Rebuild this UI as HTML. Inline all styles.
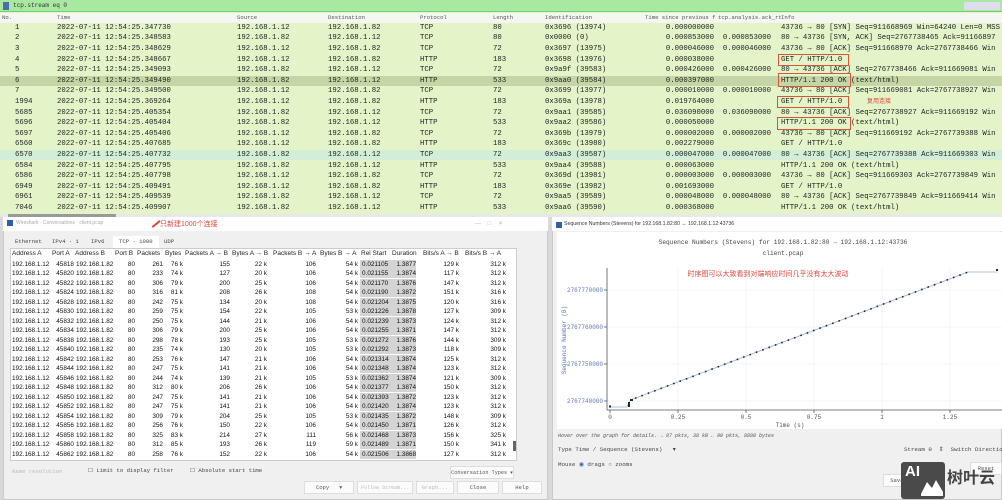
<!DOCTYPE html>
<html><head><meta charset="utf-8"><style>
*{margin:0;padding:0;box-sizing:border-box}
body{width:1002px;height:500px;overflow:hidden;background:#d9d9d9;position:relative;font-family:"Liberation Sans","Noto Sans CJK SC",sans-serif}
.a{position:absolute;white-space:nowrap}
.pl{position:absolute;left:0;top:0;width:1002px;height:216px;background:#e3f4c9}
.m{font-family:"Liberation Mono","Noto Sans CJK SC",monospace;font-size:7.3px;color:#222}
.r{position:absolute;left:0;width:1002px;height:10.6px;line-height:10.6px}
.r span{position:absolute;top:0}
.k1{left:15px}.k2{left:57px}.k3{left:237px}.k4{left:328px}.k5{left:420px}.k6{left:493px}.k7{left:545px}
.k8{left:640px;width:74px;text-align:right}.k9{left:700px;width:71px;text-align:right}.k10{left:781px}
.box{position:absolute;border:1.3px solid #d8553a}
.ct{font-size:6.4px;color:#111}
.cr{position:absolute;left:10px;width:507px;height:9.5px;line-height:9.5px}
.cr span{position:absolute;top:0}
.q1{left:2px}.q2{left:36px;width:28px;text-align:right}.q3{left:66px}
.q4{left:100px;width:25px;text-align:right}.q5{left:130px;width:23px;text-align:right}.q6{left:155px;width:18px;text-align:right}
.q7{left:190px;width:30px;text-align:right}.q8{left:230px;width:27px;text-align:right}.q9{left:275px;width:31px;text-align:right}
.q10{left:318px;width:30px;text-align:right}.q11{left:350px;width:56px;background:#d4d4d4;height:9px;padding-left:2px}
.q12{left:380px;width:26px;text-align:right}.q13{left:420px;width:29px;text-align:right}.q14{left:470px;width:26px;text-align:right}
.btn{position:absolute;background:#fbfbfb;border:1px solid #ddd;font-family:"Liberation Mono",monospace;font-size:5.6px;color:#555;text-align:center;line-height:12px;height:13px;white-space:nowrap;overflow:hidden}
</style></head><body>
<div class="pl"></div>
<div class="a" style="left:0;top:0;width:1002px;height:12px;background:#a8e8a0;border-bottom:1px solid #7c7"></div>
<div class="a" style="left:3px;top:2px;width:6px;height:8px;background:#4a6fa8"></div>
<div class="a m" style="left:13px;top:2px;font-size:6px;color:#333">tcp.stream eq 0</div>
<div class="a" style="left:964px;top:2px;width:36px;height:8px;background:#dde"></div>
<div class="a" style="left:0;top:13px;width:1002px;height:10px;background:#f4f6f0"></div>
<div class="a m" style="top:14px;left:0;width:1002px;height:9px;font-size:5.6px;color:#555">
<span class="a" style="left:2px">No.</span><span class="a" style="left:57px">Time</span><span class="a" style="left:237px">Source</span><span class="a" style="left:328px">Destination</span><span class="a" style="left:420px">Protocol</span><span class="a" style="left:493px">Length</span><span class="a" style="left:545px">Identification</span><span class="a" style="left:645px">Time since previous f</span><span class="a" style="left:718px">tcp.analysis.ack_rt</span><span class="a" style="left:781px">Info</span></div>
<div class="m">
<div class="r" style="top:22.7px"><span class="k1">1</span><span class="k2">2022-07-11 12:54:25.347730</span><span class="k3">192.168.1.12</span><span class="k4">192.168.1.82</span><span class="k5">TCP</span><span class="k6">80</span><span class="k7">0x3696 (13974)</span><span class="k8">0.000000000</span><span class="k10">43736 → 80 [SYN] Seq=911668969 Win=64240 Len=0 MSS</span></div>
<div class="r" style="top:33.3px"><span class="k1">2</span><span class="k2">2022-07-11 12:54:25.348583</span><span class="k3">192.168.1.82</span><span class="k4">192.168.1.12</span><span class="k5">TCP</span><span class="k6">80</span><span class="k7">0x0000 (0)</span><span class="k8">0.000853000</span><span class="k9">0.000853000</span><span class="k10">80 → 43736 [SYN, ACK] Seq=2767738465 Ack=91166897</span></div>
<div class="r" style="top:43.9px"><span class="k1">3</span><span class="k2">2022-07-11 12:54:25.348629</span><span class="k3">192.168.1.12</span><span class="k4">192.168.1.82</span><span class="k5">TCP</span><span class="k6">72</span><span class="k7">0x3697 (13975)</span><span class="k8">0.000046000</span><span class="k9">0.000046000</span><span class="k10">43736 → 80 [ACK] Seq=911668970 Ack=2767738466 Win</span></div>
<div class="r" style="top:54.5px"><span class="k1">4</span><span class="k2">2022-07-11 12:54:25.348667</span><span class="k3">192.168.1.12</span><span class="k4">192.168.1.82</span><span class="k5">HTTP</span><span class="k6">183</span><span class="k7">0x3698 (13976)</span><span class="k8">0.000038000</span><span class="k10">GET / HTTP/1.0</span></div>
<div class="r" style="top:65.1px"><span class="k1">5</span><span class="k2">2022-07-11 12:54:25.349093</span><span class="k3">192.168.1.82</span><span class="k4">192.168.1.12</span><span class="k5">TCP</span><span class="k6">72</span><span class="k7">0x9a9f (39583)</span><span class="k8">0.000426000</span><span class="k9">0.000426000</span><span class="k10">80 → 43736 [ACK] Seq=2767738466 Ack=911669081 Win</span></div>
<div class="r" style="top:75.7px;background:#c4d6a6"><span class="k1">6</span><span class="k2">2022-07-11 12:54:25.349490</span><span class="k3">192.168.1.82</span><span class="k4">192.168.1.12</span><span class="k5">HTTP</span><span class="k6">533</span><span class="k7">0x9aa0 (39584)</span><span class="k8">0.000397000</span><span class="k10">HTTP/1.1 200 OK  (text/html)</span></div>
<div class="r" style="top:86.3px"><span class="k1">7</span><span class="k2">2022-07-11 12:54:25.349500</span><span class="k3">192.168.1.12</span><span class="k4">192.168.1.82</span><span class="k5">TCP</span><span class="k6">72</span><span class="k7">0x3699 (13977)</span><span class="k8">0.000010000</span><span class="k9">0.000010000</span><span class="k10">43736 → 80 [ACK] Seq=911669081 Ack=2767738927 Win</span></div>
<div class="r" style="top:96.9px"><span class="k1">1994</span><span class="k2">2022-07-11 12:54:25.369264</span><span class="k3">192.168.1.12</span><span class="k4">192.168.1.82</span><span class="k5">HTTP</span><span class="k6">183</span><span class="k7">0x369a (13978)</span><span class="k8">0.019764000</span><span class="k10">GET / HTTP/1.0</span></div>
<div class="r" style="top:107.5px"><span class="k1">5685</span><span class="k2">2022-07-11 12:54:25.405354</span><span class="k3">192.168.1.82</span><span class="k4">192.168.1.12</span><span class="k5">TCP</span><span class="k6">72</span><span class="k7">0x9aa1 (39585)</span><span class="k8">0.036090000</span><span class="k9">0.036090000</span><span class="k10">80 → 43736 [ACK] Seq=2767738927 Ack=911669192 Win</span></div>
<div class="r" style="top:118.1px"><span class="k1">5696</span><span class="k2">2022-07-11 12:54:25.405404</span><span class="k3">192.168.1.82</span><span class="k4">192.168.1.12</span><span class="k5">HTTP</span><span class="k6">533</span><span class="k7">0x9aa2 (39586)</span><span class="k8">0.000050000</span><span class="k10">HTTP/1.1 200 OK  (text/html)</span></div>
<div class="r" style="top:128.7px"><span class="k1">5697</span><span class="k2">2022-07-11 12:54:25.405406</span><span class="k3">192.168.1.12</span><span class="k4">192.168.1.82</span><span class="k5">TCP</span><span class="k6">72</span><span class="k7">0x369b (13979)</span><span class="k8">0.000002000</span><span class="k9">0.000002000</span><span class="k10">43736 → 80 [ACK] Seq=911669192 Ack=2767739388 Win</span></div>
<div class="r" style="top:139.3px"><span class="k1">6560</span><span class="k2">2022-07-11 12:54:25.407685</span><span class="k3">192.168.1.12</span><span class="k4">192.168.1.82</span><span class="k5">HTTP</span><span class="k6">183</span><span class="k7">0x369c (13980)</span><span class="k8">0.002279000</span><span class="k10">GET / HTTP/1.0</span></div>
<div class="r" style="top:149.9px;background:#d3eed8"><span class="k1">6570</span><span class="k2">2022-07-11 12:54:25.407732</span><span class="k3">192.168.1.82</span><span class="k4">192.168.1.12</span><span class="k5">TCP</span><span class="k6">72</span><span class="k7">0x9aa3 (39587)</span><span class="k8">0.000047000</span><span class="k9">0.000047000</span><span class="k10">80 → 43736 [ACK] Seq=2767739388 Ack=911669303 Win</span></div>
<div class="r" style="top:160.5px"><span class="k1">6584</span><span class="k2">2022-07-11 12:54:25.407795</span><span class="k3">192.168.1.82</span><span class="k4">192.168.1.12</span><span class="k5">HTTP</span><span class="k6">533</span><span class="k7">0x9aa4 (39588)</span><span class="k8">0.000063000</span><span class="k10">HTTP/1.1 200 OK  (text/html)</span></div>
<div class="r" style="top:171.1px"><span class="k1">6586</span><span class="k2">2022-07-11 12:54:25.407798</span><span class="k3">192.168.1.12</span><span class="k4">192.168.1.82</span><span class="k5">TCP</span><span class="k6">72</span><span class="k7">0x369d (13981)</span><span class="k8">0.000003000</span><span class="k9">0.000003000</span><span class="k10">43736 → 80 [ACK] Seq=911669303 Ack=2767739849 Win</span></div>
<div class="r" style="top:181.7px"><span class="k1">6949</span><span class="k2">2022-07-11 12:54:25.409491</span><span class="k3">192.168.1.12</span><span class="k4">192.168.1.82</span><span class="k5">HTTP</span><span class="k6">183</span><span class="k7">0x369e (13982)</span><span class="k8">0.001693000</span><span class="k10">GET / HTTP/1.0</span></div>
<div class="r" style="top:192.3px"><span class="k1">6961</span><span class="k2">2022-07-11 12:54:25.409539</span><span class="k3">192.168.1.82</span><span class="k4">192.168.1.12</span><span class="k5">TCP</span><span class="k6">72</span><span class="k7">0x9aa5 (39589)</span><span class="k8">0.000048000</span><span class="k9">0.000048000</span><span class="k10">80 → 43736 [ACK] Seq=2767739849 Ack=911669414 Win</span></div>
<div class="r" style="top:202.9px"><span class="k1">7046</span><span class="k2">2022-07-11 12:54:25.409907</span><span class="k3">192.168.1.82</span><span class="k4">192.168.1.12</span><span class="k5">HTTP</span><span class="k6">533</span><span class="k7">0x9aa6 (39590)</span><span class="k8">0.000368000</span><span class="k10">HTTP/1.1 200 OK  (text/html)</span></div>
</div>
<div class="a" style="left:0;top:214px;width:1002px;height:3px;background:#e8e8e8"></div>
<div class="a" style="left:8px;top:214px;width:108px;height:3px;background:#999"></div>
<div class="box" style="left:778px;top:54px;width:71px;height:12px"></div>
<div class="box" style="left:778px;top:73px;width:73px;height:14px"></div>
<div class="box" style="left:777px;top:96px;width:72px;height:12px"></div>
<div class="box" style="left:777px;top:117px;width:74px;height:13px"></div>
<div class="a" style="left:867px;top:96px;font-size:6px;color:#e0443a">复用连接</div>

<!-- Left dialog -->
<div class="a" style="left:3px;top:217px;width:545px;height:283px;background:#f0f0f0;border:1px solid #c8c8c8"></div>
<div class="a" style="left:3px;top:217px;width:545px;height:14px;background:#fff"></div>
<div class="a" style="left:7px;top:220px;width:6px;height:6px;background:#2d5fa8"></div>
<div class="a" style="left:16px;top:220px;font-size:5px;color:#aaa">Wireshark · Conversations · client.pcap</div>
<div class="a" style="left:160px;top:219px;font-size:7px;color:#e0443a">只新建1000个连接</div>
<div class="a" style="left:151px;top:223px;width:10px;height:1.5px;background:#e0443a;transform:rotate(-40deg)"></div>
<div class="a" style="left:475px;top:220px;font-size:6px;color:#bbb">—&nbsp;&nbsp;&nbsp;&nbsp;□&nbsp;&nbsp;&nbsp;&nbsp;✕</div>
<div class="a" style="left:10px;top:236px;width:183px;height:12px;font-family:'Liberation Mono',monospace;font-size:5.6px;color:#444;line-height:12px">
<span class="a" style="left:5px">Ethernet</span><span class="a" style="left:42px">IPv4 · 1</span><span class="a" style="left:81px">IPv6</span><span class="a" style="left:103px;background:#fff;padding:0 6px;height:13px">TCP · 1000</span><span class="a" style="left:154px">UDP</span></div>
<div class="a" style="left:10px;top:248px;width:507px;height:213px;background:#fff;border:1px solid #ccc"></div>
<div class="a" style="left:513px;top:441px;width:3px;height:10px;background:#666"></div>
<div class="a ct" style="left:10px;top:249px;width:507px;height:10px;line-height:10px;color:#222;font-size:6.5px">
<span class="a" style="left:2px">Address A</span><span class="a" style="left:42px">Port A</span><span class="a" style="left:65px">Address B</span><span class="a" style="left:105px">Port B</span><span class="a" style="left:127px">Packets</span><span class="a" style="left:155px">Bytes</span><span class="a" style="left:175px">Packets A → B</span><span class="a" style="left:222px">Bytes A → B</span><span class="a" style="left:263px">Packets B → A</span><span class="a" style="left:310px">Bytes B → A</span><span class="a" style="left:351px">Rel Start</span><span class="a" style="left:382px">Duration</span><span class="a" style="left:413px">Bits/s A → B</span><span class="a" style="left:455px">Bits/s B → A</span></div>
<div class="ct">
<div class="cr" style="top:259.5px"><span class="q1">192.168.1.12</span><span class="q2">45818</span><span class="q3">192.168.1.82</span><span class="q4">80</span><span class="q5">261</span><span class="q6">76 k</span><span class="q7">155</span><span class="q8">22 k</span><span class="q9">106</span><span class="q10">54 k</span><span class="q11">0.021105</span><span class="q12">1.3877</span><span class="q13">129 k</span><span class="q14">312 k</span></div>
<div class="cr" style="top:269px"><span class="q1">192.168.1.12</span><span class="q2">45820</span><span class="q3">192.168.1.82</span><span class="q4">80</span><span class="q5">233</span><span class="q6">74 k</span><span class="q7">127</span><span class="q8">20 k</span><span class="q9">106</span><span class="q10">54 k</span><span class="q11">0.021155</span><span class="q12">1.3874</span><span class="q13">117 k</span><span class="q14">312 k</span></div>
<div class="cr" style="top:278.5px"><span class="q1">192.168.1.12</span><span class="q2">45822</span><span class="q3">192.168.1.82</span><span class="q4">80</span><span class="q5">306</span><span class="q6">79 k</span><span class="q7">200</span><span class="q8">25 k</span><span class="q9">106</span><span class="q10">54 k</span><span class="q11">0.021170</span><span class="q12">1.3876</span><span class="q13">147 k</span><span class="q14">312 k</span></div>
<div class="cr" style="top:288px"><span class="q1">192.168.1.12</span><span class="q2">45824</span><span class="q3">192.168.1.82</span><span class="q4">80</span><span class="q5">316</span><span class="q6">81 k</span><span class="q7">208</span><span class="q8">26 k</span><span class="q9">108</span><span class="q10">54 k</span><span class="q11">0.021190</span><span class="q12">1.3872</span><span class="q13">151 k</span><span class="q14">316 k</span></div>
<div class="cr" style="top:297.5px"><span class="q1">192.168.1.12</span><span class="q2">45828</span><span class="q3">192.168.1.82</span><span class="q4">80</span><span class="q5">242</span><span class="q6">75 k</span><span class="q7">134</span><span class="q8">20 k</span><span class="q9">108</span><span class="q10">54 k</span><span class="q11">0.021204</span><span class="q12">1.3875</span><span class="q13">120 k</span><span class="q14">316 k</span></div>
<div class="cr" style="top:307px"><span class="q1">192.168.1.12</span><span class="q2">45830</span><span class="q3">192.168.1.82</span><span class="q4">80</span><span class="q5">259</span><span class="q6">75 k</span><span class="q7">154</span><span class="q8">22 k</span><span class="q9">105</span><span class="q10">53 k</span><span class="q11">0.021226</span><span class="q12">1.3878</span><span class="q13">127 k</span><span class="q14">309 k</span></div>
<div class="cr" style="top:316.5px"><span class="q1">192.168.1.12</span><span class="q2">45832</span><span class="q3">192.168.1.82</span><span class="q4">80</span><span class="q5">250</span><span class="q6">75 k</span><span class="q7">144</span><span class="q8">21 k</span><span class="q9">106</span><span class="q10">54 k</span><span class="q11">0.021239</span><span class="q12">1.3873</span><span class="q13">124 k</span><span class="q14">312 k</span></div>
<div class="cr" style="top:326px"><span class="q1">192.168.1.12</span><span class="q2">45834</span><span class="q3">192.168.1.82</span><span class="q4">80</span><span class="q5">306</span><span class="q6">79 k</span><span class="q7">200</span><span class="q8">25 k</span><span class="q9">106</span><span class="q10">54 k</span><span class="q11">0.021255</span><span class="q12">1.3871</span><span class="q13">147 k</span><span class="q14">312 k</span></div>
<div class="cr" style="top:335.5px"><span class="q1">192.168.1.12</span><span class="q2">45838</span><span class="q3">192.168.1.82</span><span class="q4">80</span><span class="q5">298</span><span class="q6">78 k</span><span class="q7">193</span><span class="q8">25 k</span><span class="q9">105</span><span class="q10">53 k</span><span class="q11">0.021272</span><span class="q12">1.3876</span><span class="q13">144 k</span><span class="q14">309 k</span></div>
<div class="cr" style="top:345px"><span class="q1">192.168.1.12</span><span class="q2">45840</span><span class="q3">192.168.1.82</span><span class="q4">80</span><span class="q5">235</span><span class="q6">74 k</span><span class="q7">130</span><span class="q8">20 k</span><span class="q9">105</span><span class="q10">53 k</span><span class="q11">0.021292</span><span class="q12">1.3873</span><span class="q13">118 k</span><span class="q14">309 k</span></div>
<div class="cr" style="top:354.5px"><span class="q1">192.168.1.12</span><span class="q2">45842</span><span class="q3">192.168.1.82</span><span class="q4">80</span><span class="q5">253</span><span class="q6">76 k</span><span class="q7">147</span><span class="q8">21 k</span><span class="q9">106</span><span class="q10">54 k</span><span class="q11">0.021314</span><span class="q12">1.3874</span><span class="q13">125 k</span><span class="q14">312 k</span></div>
<div class="cr" style="top:364px"><span class="q1">192.168.1.12</span><span class="q2">45844</span><span class="q3">192.168.1.82</span><span class="q4">80</span><span class="q5">247</span><span class="q6">75 k</span><span class="q7">141</span><span class="q8">21 k</span><span class="q9">106</span><span class="q10">54 k</span><span class="q11">0.021348</span><span class="q12">1.3874</span><span class="q13">123 k</span><span class="q14">312 k</span></div>
<div class="cr" style="top:373.5px"><span class="q1">192.168.1.12</span><span class="q2">45846</span><span class="q3">192.168.1.82</span><span class="q4">80</span><span class="q5">244</span><span class="q6">74 k</span><span class="q7">139</span><span class="q8">21 k</span><span class="q9">105</span><span class="q10">53 k</span><span class="q11">0.021362</span><span class="q12">1.3874</span><span class="q13">121 k</span><span class="q14">309 k</span></div>
<div class="cr" style="top:383px"><span class="q1">192.168.1.12</span><span class="q2">45848</span><span class="q3">192.168.1.82</span><span class="q4">80</span><span class="q5">312</span><span class="q6">80 k</span><span class="q7">206</span><span class="q8">26 k</span><span class="q9">106</span><span class="q10">54 k</span><span class="q11">0.021377</span><span class="q12">1.3874</span><span class="q13">150 k</span><span class="q14">312 k</span></div>
<div class="cr" style="top:392.5px"><span class="q1">192.168.1.12</span><span class="q2">45850</span><span class="q3">192.168.1.82</span><span class="q4">80</span><span class="q5">247</span><span class="q6">75 k</span><span class="q7">141</span><span class="q8">21 k</span><span class="q9">106</span><span class="q10">54 k</span><span class="q11">0.021393</span><span class="q12">1.3872</span><span class="q13">123 k</span><span class="q14">312 k</span></div>
<div class="cr" style="top:402px"><span class="q1">192.168.1.12</span><span class="q2">45852</span><span class="q3">192.168.1.82</span><span class="q4">80</span><span class="q5">247</span><span class="q6">75 k</span><span class="q7">141</span><span class="q8">21 k</span><span class="q9">106</span><span class="q10">54 k</span><span class="q11">0.021420</span><span class="q12">1.3874</span><span class="q13">123 k</span><span class="q14">312 k</span></div>
<div class="cr" style="top:411.5px"><span class="q1">192.168.1.12</span><span class="q2">45854</span><span class="q3">192.168.1.82</span><span class="q4">80</span><span class="q5">309</span><span class="q6">79 k</span><span class="q7">204</span><span class="q8">25 k</span><span class="q9">105</span><span class="q10">53 k</span><span class="q11">0.021435</span><span class="q12">1.3872</span><span class="q13">148 k</span><span class="q14">309 k</span></div>
<div class="cr" style="top:421px"><span class="q1">192.168.1.12</span><span class="q2">45856</span><span class="q3">192.168.1.82</span><span class="q4">80</span><span class="q5">256</span><span class="q6">76 k</span><span class="q7">150</span><span class="q8">22 k</span><span class="q9">106</span><span class="q10">54 k</span><span class="q11">0.021450</span><span class="q12">1.3871</span><span class="q13">126 k</span><span class="q14">312 k</span></div>
<div class="cr" style="top:430.5px"><span class="q1">192.168.1.12</span><span class="q2">45858</span><span class="q3">192.168.1.82</span><span class="q4">80</span><span class="q5">325</span><span class="q6">83 k</span><span class="q7">214</span><span class="q8">27 k</span><span class="q9">111</span><span class="q10">56 k</span><span class="q11">0.021468</span><span class="q12">1.3873</span><span class="q13">156 k</span><span class="q14">325 k</span></div>
<div class="cr" style="top:440px"><span class="q1">192.168.1.12</span><span class="q2">45860</span><span class="q3">192.168.1.82</span><span class="q4">80</span><span class="q5">312</span><span class="q6">85 k</span><span class="q7">193</span><span class="q8">26 k</span><span class="q9">119</span><span class="q10">59 k</span><span class="q11">0.021489</span><span class="q12">1.3871</span><span class="q13">150 k</span><span class="q14">341 k</span></div>
<div class="cr" style="top:449.5px"><span class="q1">192.168.1.12</span><span class="q2">45862</span><span class="q3">192.168.1.82</span><span class="q4">80</span><span class="q5">258</span><span class="q6">76 k</span><span class="q7">152</span><span class="q8">22 k</span><span class="q9">106</span><span class="q10">54 k</span><span class="q11">0.021506</span><span class="q12">1.3868</span><span class="q13">127 k</span><span class="q14">312 k</span></div>
</div>
<div class="a" style="top:468px;left:12px;font-family:'Liberation Mono',monospace;font-size:5.6px;color:#bbb">Name resolution</div>
<div class="a" style="top:467px;left:88px;font-family:'Liberation Mono',monospace;font-size:5.6px;color:#444">☐ Limit to display filter</div>
<div class="a" style="top:467px;left:190px;font-family:'Liberation Mono',monospace;font-size:5.6px;color:#444">☐ Absolute start time</div>
<div class="btn" style="left:450px;top:466px;width:64px;font-size:5.2px">Conversation Types ▾</div>
<div class="btn" style="left:304px;top:481px;width:50px">Copy &nbsp;&nbsp;▾</div>
<div class="btn" style="left:357px;top:481px;width:56px;color:#bbb;font-size:5px">Follow Stream...</div>
<div class="btn" style="left:416px;top:481px;width:38px;color:#bbb">Graph...</div>
<div class="btn" style="left:457px;top:481px;width:42px">Close</div>
<div class="btn" style="left:502px;top:481px;width:40px">Help</div>

<!-- Right dialog -->
<div class="a" style="left:552px;top:217px;width:450px;height:283px;background:#f0f0f0;border:1px solid #c8c8c8"></div>
<div class="a" style="left:552px;top:217px;width:450px;height:14px;background:#fff"></div>
<div class="a" style="left:556px;top:222px;width:6px;height:6px;background:#2d5fa8"></div>
<div class="a" style="left:564px;top:221px;font-size:5.2px;color:#333">Sequence Numbers (Stevens) for 192.168.1.82:80 → 192.168.1.12:43736</div>
<svg class="a" style="left:557px;top:232px" width="445" height="197" viewBox="557 232 445 197">
<rect x="557" y="232" width="445" height="197" fill="#fff"/>
<g font-family="Liberation Mono, monospace" fill="#444" font-size="6.2">
<text x="783" y="244" text-anchor="middle">Sequence Numbers (Stevens) for 192.168.1.82:80 → 192.168.1.12:43736</text>
<text x="783" y="255" text-anchor="middle">client.pcap</text>
</g>
<g stroke="#eee" stroke-width="0.6">
<line x1="678" y1="268" x2="678" y2="410"/><line x1="746" y1="268" x2="746" y2="410"/><line x1="814" y1="268" x2="814" y2="410"/><line x1="882" y1="268" x2="882" y2="410"/><line x1="950" y1="268" x2="950" y2="410"/>
<line x1="607" y1="290" x2="1002" y2="290"/><line x1="607" y1="327" x2="1002" y2="327"/><line x1="607" y1="364" x2="1002" y2="364"/><line x1="607" y1="401" x2="1002" y2="401"/>
</g>
<g stroke="#555" stroke-width="0.8">
<line x1="607" y1="268" x2="607" y2="410"/><line x1="607" y1="410" x2="1002" y2="410"/>
<line x1="610" y1="410" x2="610" y2="413"/><line x1="678" y1="410" x2="678" y2="413"/><line x1="746" y1="410" x2="746" y2="413"/><line x1="814" y1="410" x2="814" y2="413"/><line x1="882" y1="410" x2="882" y2="413"/><line x1="950" y1="410" x2="950" y2="413"/>
<line x1="604" y1="290" x2="607" y2="290"/><line x1="604" y1="327" x2="607" y2="327"/><line x1="604" y1="364" x2="607" y2="364"/><line x1="604" y1="401" x2="607" y2="401"/>
</g>
<g font-family="Liberation Mono, monospace" font-size="6" fill="#555">
<text x="610" y="419" text-anchor="middle">0</text><text x="678" y="419" text-anchor="middle">0.25</text><text x="746" y="419" text-anchor="middle">0.5</text><text x="814" y="419" text-anchor="middle">0.75</text><text x="882" y="419" text-anchor="middle">1</text><text x="950" y="419" text-anchor="middle">1.25</text>
<text x="790" y="427" text-anchor="middle">Time (s)</text>
<g fill="#5a7ab0" text-anchor="end"><text x="603" y="292">2767770000</text><text x="603" y="329">2767760000</text><text x="603" y="366">2767750000</text><text x="603" y="403">2767740000</text></g>
<text x="566" y="340" fill="#5a7ab0" text-anchor="middle" transform="rotate(-90 566 340)">Sequence Number (B)</text>
</g>
<polyline points="610,407 627,407 630,401 633,399 968,272 997,272" fill="none" stroke="#8fb0d8" stroke-width="0.8"/>
<line x1="635" y1="398.3" x2="968" y2="272" stroke="#223" stroke-width="1.6" stroke-dasharray="1.6 5.2"/>
<rect x="609" y="405.5" width="2" height="2" fill="#223"/><rect x="628" y="402" width="2" height="5" fill="#223"/><rect x="630" y="399" width="3" height="2" fill="#223"/><rect x="996" y="269" width="2" height="2" fill="#223"/>
<text x="768" y="276" font-size="7" fill="#e0443a" text-anchor="middle" font-family="Liberation Sans, Noto Sans CJK SC, sans-serif">时序图可以大致看到对端响应时间几乎没有太大波动</text>
</svg>
<div class="a" style="left:558px;top:433px;font-family:'Liberation Mono',monospace;font-size:5px;font-style:italic;color:#555">Hover over the graph for details. → 87 pkts, 38 kB ← 90 pkts, 8880 bytes</div>
<div class="a" style="left:558px;top:446px;font-family:'Liberation Mono',monospace;font-size:5.8px;color:#444">Type Time / Sequence (Stevens) &nbsp;&nbsp;▾</div>
<div class="a" style="left:558px;top:461px;font-family:'Liberation Mono',monospace;font-size:5.8px;color:#444">Mouse <span style="color:#2d6fc8">◉</span> drags ○ zooms</div>
<div class="a" style="left:904px;top:446px;font-family:'Liberation Mono',monospace;font-size:5.8px;color:#444">Stream 0 &nbsp;⇕ &nbsp;Switch Direction</div>
<div class="btn" style="left:883px;top:474px;width:48px">Save As...</div>
<div class="btn" style="left:970px;top:462px;width:32px">Reset</div>
<div class="a" style="left:901px;top:462px;width:44px;height:37px;background:#4a4a4a;border-radius:3px"></div>
<div class="a" style="left:905px;top:463px;font-size:15px;font-weight:bold;color:#fff">AI</div>
<svg class="a" style="left:921px;top:474px" width="22" height="22"><path d="M0 20 L6 8 L11 14 L15 6 L22 18 L22 22 L0 22Z" fill="#fff"/></svg>
<div class="a" style="left:947px;top:464px;font-size:16px;font-weight:bold;color:#444">树叶云</div>
</body></html>
